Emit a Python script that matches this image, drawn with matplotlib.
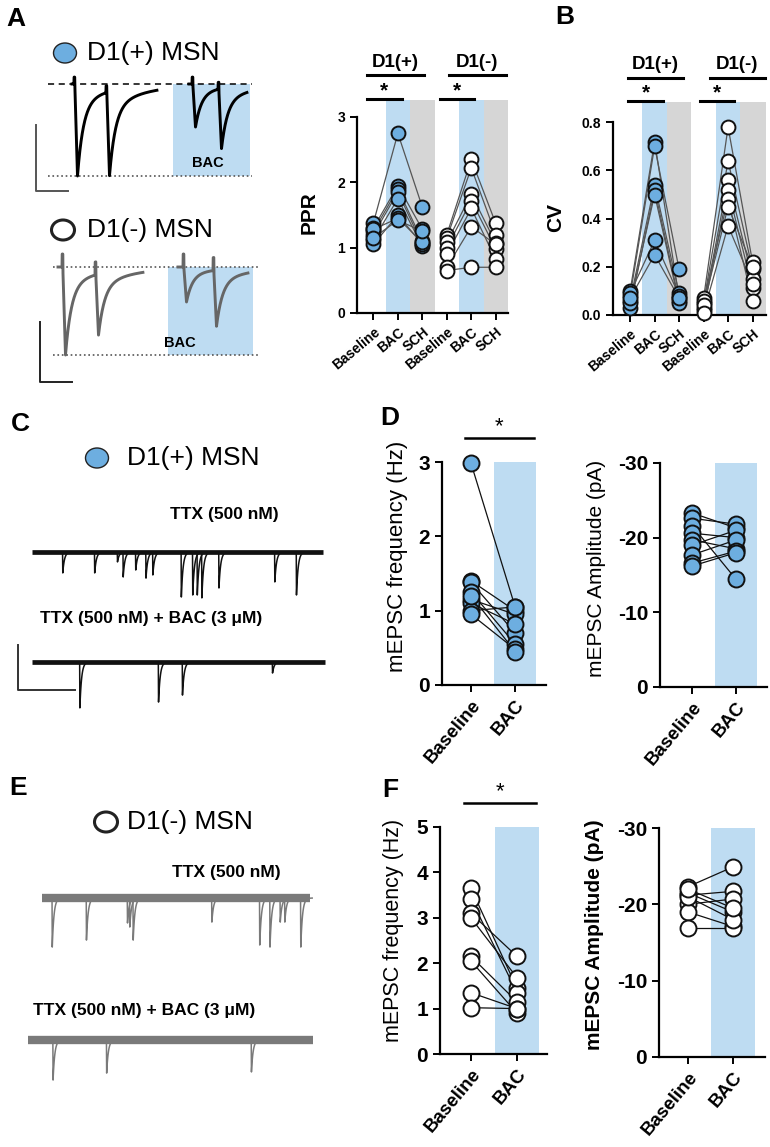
import numpy as np
import matplotlib
matplotlib.use("Agg")
import matplotlib.pyplot as plt
from matplotlib.patches import Ellipse, Rectangle

plt.rcParams['font.family'] = ['Liberation Sans', 'DejaVu Sans']
plt.rcParams['axes.unicode_minus'] = False

W, H = 770, 1147
BLUE = '#6daee0'
BAND = '#bedcf2'
GRAY_BAND = '#d6d6d6'

# ---------------- data ----------------
groups = ['Baseline', 'BAC', 'SCH']

# panel A: paired-pulse ratio
ppr_pos_base = [1.38, 1.30, 1.25, 1.20, 1.12, 1.05, 1.28, 1.15]
ppr_pos_bac = [2.75, 1.95, 1.90, 1.85, 1.75, 1.50, 1.45, 1.42]
ppr_pos_sch = [1.62, 1.28, 1.10, 1.05, 1.02, 1.05, 1.08, 1.25]
ppr_neg_base = [1.20, 1.15, 1.08, 1.00, 0.90, 0.70, 0.65]
ppr_neg_bac = [2.35, 2.22, 1.82, 1.72, 1.60, 1.32, 0.70]
ppr_neg_sch = [1.37, 1.20, 1.07, 0.98, 0.82, 1.05, 0.70]

# panel B: coefficient of variation
cv_pos_base = [0.10, 0.08, 0.06, 0.03, 0.05, 0.09, 0.07]
cv_pos_bac = [0.72, 0.70, 0.54, 0.52, 0.50, 0.31, 0.25]
cv_pos_sch = [0.07, 0.19, 0.09, 0.06, 0.05, 0.08, 0.07]
cv_neg_base = [0.07, 0.05, 0.03, 0.02, 0.06, 0.04, 0.01]
cv_neg_bac = [0.78, 0.64, 0.56, 0.52, 0.48, 0.45, 0.37]
cv_neg_sch = [0.22, 0.19, 0.15, 0.11, 0.06, 0.20, 0.13]

# panel D: D1(+) mEPSC
d_freq_base = [2.98, 1.40, 1.38, 1.25, 1.15, 1.10, 1.00, 0.95, 1.20]
d_freq_bac = [1.05, 1.00, 0.70, 0.55, 0.95, 0.82, 1.05, 0.48, 0.45]
d_amp_base = [-23.3, -22.6, -21.6, -20.6, -19.7, -19.0, -17.7, -16.6, -16.2]
d_amp_bac = [-21.3, -21.8, -14.4, -20.0, -18.5, -21.0, -19.7, -18.2, -18.0]

# panel F: D1(-) mEPSC
f_freq_base = [3.65, 3.42, 3.10, 3.00, 2.15, 2.05, 1.35, 1.02]
f_freq_bac = [1.45, 1.35, 2.15, 1.68, 1.15, 0.90, 1.00, 1.00]
f_amp_base = [-22.3, -21.2, -21.5, -20.0, -19.0, -16.9, -21.0, -22.0]
f_amp_bac = [-24.9, -21.7, -19.0, -20.7, -17.1, -16.9, -18.0, -19.5]

# panel A example EPSC traces (stim time ms, peak pA)
a_pos_ctrl_stim, a_pos_ctrl_amp = [26, 58], [-400, -365]
a_pos_bac_stim, a_pos_bac_amp = [144, 170], [-187, -261]
a_neg_ctrl_stim, a_neg_ctrl_amp = [9, 42], [-400, -277]
a_neg_bac_stim, a_neg_bac_amp = [130, 160], [-159, -255]

# panels C / E: mEPSC event times (s) and amplitudes (pA)
c_ttx_t = [0.27, 0.55, 0.75, 0.80, 0.91, 1.00, 1.06, 1.31, 1.41, 1.45, 1.49, 1.64, 2.13, 2.32]
c_ttx_a = [9.3, 9.3, 4.4, 11.1, 8.0, 11.6, 10.2, 20.0, 19.1, 19.1, 20.4, 16.0, 13.3, 19.1]
c_bac_t = [0.42, 1.11, 1.32, 2.11]
c_bac_a = [20.4, 17.8, 14.7, 4.9]
e_ttx_t = [0.09, 0.39, 0.75, 0.77, 0.80, 1.49, 1.91, 2.00, 2.09, 2.13, 2.27]
e_ttx_a = [21.8, 18.7, 11.1, 12.9, 18.7, 10.7, 20.9, 21.8, 10.7, 10.7, 21.8]
e_bac_t = [0.22, 0.69, 1.96]
e_bac_a = [17.8, 14.7, 14.2]

# ---------------- figure ----------------
fig = plt.figure(figsize=(W / 100, H / 100), dpi=100)


def px_axes(left, top, right, bottom):
    ax = fig.add_axes([left / W, 1 - bottom / H, (right - left) / W, (bottom - top) / H])
    ax.set_facecolor('none')
    return ax


overlay = px_axes(0, 0, W, H)
overlay.set_xlim(0, W)
overlay.set_ylim(H, 0)
overlay.axis('off')


def style(ax, fs, xfs, rot):
    for s in ['top', 'right']:
        ax.spines[s].set_visible(False)
    for s in ['left', 'bottom']:
        ax.spines[s].set_linewidth(1.6)
    ax.tick_params(width=1.4, length=5, labelsize=fs)
    for lab in ax.get_yticklabels():
        lab.set_fontweight('bold')
    plt.setp(ax.get_xticklabels(), rotation=rot, ha='right', rotation_mode='anchor',
             fontweight='bold', fontsize=xfs)


def paired(ax, xs, cols, face, ms, lc):
    arr = np.array(cols)
    for i in range(arr.shape[1]):
        ax.plot(xs, arr[:, i], color=lc, lw=0.9, zorder=2)
    for xi, col in zip(xs, arr):
        ax.plot([xi] * len(col), col, 'o', ms=ms, mfc=face, mec='#111', mew=1.4,
                zorder=3, clip_on=False)


def bar_above(ax, x0, x1, yf, lw=2.2):
    ax.plot([x0, x1], [yf, yf], color='k', lw=lw, clip_on=False,
            transform=ax.get_xaxis_transform())


# ----- panel A plot (PPR) -----
ax = px_axes(357, 100, 508, 313)
ax.axvspan(0.5, 1.5, color=BAND, lw=0, zorder=0)
ax.axvspan(1.5, 2.5, color=GRAY_BAND, lw=0, zorder=0)
ax.axvspan(3.5, 4.5, color=BAND, lw=0, zorder=0)
ax.axvspan(4.5, 5.5, color=GRAY_BAND, lw=0, zorder=0)
paired(ax, [0, 1, 2], [ppr_pos_base, ppr_pos_bac, ppr_pos_sch], BLUE, 10, '#555')
paired(ax, [3, 4, 5], [ppr_neg_base, ppr_neg_bac, ppr_neg_sch], 'white', 10, '#555')
ax.set_xlim(-0.67, 5.5)
ax.set_ylim(0, 3.26)
ax.set_yticks([0, 1, 2, 3])
ax.spines['left'].set_bounds(0, 3)
ax.set_xticks(range(6))
ax.set_xticklabels(groups * 2)
style(ax, 10, 10, 40)
bar_above(ax, -0.25, 2.07, 1.117)
bar_above(ax, 3.07, 5.4, 1.117)
bar_above(ax, -0.25, 1.15, 1.005)
bar_above(ax, 2.74, 4.13, 1.005)
tr = ax.get_xaxis_transform()
ax.text(0.91, 1.175, 'D1(+)', transform=tr, ha='center', va='center', fontsize=13.5, fontweight='bold')
ax.text(4.23, 1.175, 'D1(-)', transform=tr, ha='center', va='center', fontsize=13.5, fontweight='bold')
ax.text(0.45, 1.0, '*', transform=tr, ha='center', va='bottom', fontsize=15, fontweight='bold')
ax.text(3.42, 1.0, '*', transform=tr, ha='center', va='bottom', fontsize=15, fontweight='bold')
overlay.text(309, 213, 'PPR', rotation=90, ha='center', va='center', fontsize=15, fontweight='bold')

# ----- panel B plot (CV) -----
ax = px_axes(613, 102, 766, 315)
ax.axvspan(0.5, 1.5, color=BAND, lw=0, zorder=0)
ax.axvspan(1.5, 2.5, color=GRAY_BAND, lw=0, zorder=0)
ax.axvspan(3.5, 4.5, color=BAND, lw=0, zorder=0)
ax.axvspan(4.5, 5.55, color=GRAY_BAND, lw=0, zorder=0)
paired(ax, [0, 1, 2], [cv_pos_base, cv_pos_bac, cv_pos_sch], BLUE, 10, '#555')
paired(ax, [3, 4, 5], [cv_neg_base, cv_neg_bac, cv_neg_sch], 'white', 10, '#555')
ax.set_xlim(-0.7, 5.55)
ax.set_ylim(0, 0.884)
ax.set_yticks([0, 0.2, 0.4, 0.6, 0.8])
ax.set_yticklabels(['0.0', '0.2', '0.4', '0.6', '0.8'])
ax.spines['left'].set_bounds(0, 0.8)
ax.set_xticks(range(6))
ax.set_xticklabels(groups * 2)
style(ax, 10, 10, 40)
bar_above(ax, -0.08, 2.16, 1.113)
bar_above(ax, 3.27, 5.5, 1.113)
bar_above(ax, -0.08, 1.35, 1.005)
bar_above(ax, 2.86, 4.24, 1.005)
tr = ax.get_xaxis_transform()
ax.text(1.04, 1.175, 'D1(+)', transform=tr, ha='center', va='center', fontsize=13.5, fontweight='bold')
ax.text(4.38, 1.175, 'D1(-)', transform=tr, ha='center', va='center', fontsize=13.5, fontweight='bold')
ax.text(0.63, 1.0, '*', transform=tr, ha='center', va='bottom', fontsize=15, fontweight='bold')
ax.text(3.55, 1.0, '*', transform=tr, ha='center', va='bottom', fontsize=15, fontweight='bold')
overlay.text(556, 217, 'CV', rotation=90, ha='center', va='center', fontsize=15, fontweight='bold')


# ----- panels D / F -----
def mepsc_panel(rect, base, bac, face, ylim, yticks, xlim, sig=None):
    ax = px_axes(*rect)
    ax.axvspan(0.52, 1.48, color=BAND, lw=0, zorder=0)
    paired(ax, [0, 1], [base, bac], face, 11.5, '#111')
    ax.set_xlim(*xlim)
    ax.set_ylim(*ylim)
    ax.set_yticks(yticks)
    ax.set_xticks([0, 1])
    ax.set_xticklabels(['Baseline', 'BAC'])
    style(ax, 15, 13.5, 50)
    if sig:
        bar_above(ax, sig[0], sig[1], sig[2], lw=1.8)
        ax.text((sig[0] + sig[1]) / 2, sig[2] + 0.005, '*', transform=ax.get_xaxis_transform(),
                ha='center', va='bottom', fontsize=16)
    return ax


mepsc_panel((442, 462, 546, 685), d_freq_base, d_freq_bac, BLUE, (0, 3), [0, 1, 2, 3],
            (-0.66, 1.70), sig=(-0.14, 1.43, 1.108))
mepsc_panel((660, 463, 767, 687), d_amp_base, d_amp_bac, BLUE, (0, -30), [0, -10, -20, -30],
            (-0.73, 1.70))
mepsc_panel((440, 827, 547, 1054), f_freq_base, f_freq_bac, 'white', (0, 5), [0, 1, 2, 3, 4, 5],
            (-0.67, 1.65), sig=(-0.15, 1.41, 1.106))
mepsc_panel((659, 828, 765, 1057), f_amp_base, f_amp_bac, 'white', (0, -30), [0, -10, -20, -30],
            (-0.64, 1.71))
overlay.text(398, 556, 'mEPSC frequency (Hz)', rotation=90, ha='center', va='center', fontsize=16)
overlay.text(597, 568, 'mEPSC Amplitude (pA)', rotation=90, ha='center', va='center', fontsize=15)
overlay.text(393, 930, 'mEPSC frequency (Hz)', rotation=90, ha='center', va='center', fontsize=15.5)
overlay.text(595, 935, 'mEPSC Amplitude (pA)', rotation=90, ha='center', va='center', fontsize=15,
             fontweight='bold')


# ----- panel A traces -----
def epsc(t, stims, amps, art):
    y = np.zeros_like(t)
    for s, a in zip(stims, amps):
        on = s + 0.8
        pk = s + 3.5
        rise = (t >= on) & (t < pk)
        y[rise] += a * (t[rise] - on) / (pk - on)
        dt = t - pk
        dec = dt >= 0
        y[dec] += a * (0.8 * np.exp(-dt[dec] / 6) + 0.2 * np.exp(-dt[dec] / 35))
        art_m = (t >= s) & (t < on)
        y[art_m] += art
    return y


def trace_axes(rect, x0px, ypx0, yscale):
    # axes whose data coordinates are ms / pA
    ax = px_axes(*rect)
    l, t, r, b = rect
    ax.set_xlim(l - x0px, r - x0px)
    ax.set_ylim((ypx0 - b) / yscale, (ypx0 - t) / yscale)
    ax.axis('off')
    return ax


# D1(+) example
ax = trace_axes((25, 62, 262, 205), 48, 84, 0.23)
ax.add_patch(Rectangle((125, -400), 77, 400, color=BAND, lw=0, zorder=0))
ax.plot([0, 204], [0, 0], '--', color='k', lw=1.1, dashes=(4, 3))
ax.plot([0, 204], [-400, -400], ':', color='#555', lw=1.2)
t = np.arange(24, 109, 0.1)
ax.plot(t, epsc(t, a_pos_ctrl_stim, a_pos_ctrl_amp, 30), color='k', lw=2.1)
t = np.arange(141, 199, 0.1)
ax.plot(t, epsc(t, a_pos_bac_stim, a_pos_bac_amp, 30), color='k', lw=2.1)
ax.text(160, -345, 'BAC', ha='center', va='center', fontsize=10.5, fontweight='bold')
ax.plot([-12, -12, 20], [-178, -465, -465], color='#555', lw=1.4, clip_on=False)

# D1(-) example
ax = trace_axes((25, 240, 265, 390), 53, 267, 0.22)
ax.add_patch(Rectangle((115, -400), 85, 400, color=BAND, lw=0, zorder=0))
ax.plot([0, 207], [0, 0], ':', color='#555', lw=1.2)
ax.plot([0, 207], [-400, -400], ':', color='#555', lw=1.2)
t = np.arange(5, 90, 0.1)
ax.plot(t, epsc(t, a_neg_ctrl_stim, a_neg_ctrl_amp, 59), color='#666', lw=2.1)
t = np.arange(125, 195, 0.1)
ax.plot(t, epsc(t, a_neg_bac_stim, a_neg_bac_amp, 59), color='#666', lw=2.1)
ax.text(127, -345, 'BAC', ha='center', va='center', fontsize=10.5, fontweight='bold')
ax.plot([-13, -13, 19], [-250, -523, -523], color='#222', lw=1.4, clip_on=False)


# ----- panels C / E mEPSC traces -----
def mini_trace(x0px, ypx0, times, amps, length, color, band_lw, scalebar=False):
    # 114 px per second, 2.25 px per pA
    rect = (5, ypx0 - 20, 335, ypx0 + 60)
    ax = px_axes(*rect)
    ax.set_xlim((rect[0] - x0px) / 114, (rect[2] - x0px) / 114)
    ax.set_ylim((ypx0 - rect[3]) / 2.25, (ypx0 - rect[1]) / 2.25)
    ax.axis('off')
    ax.plot([0, length], [0, 0], color=color, lw=band_lw, solid_capstyle='butt')
    for t0, a in zip(times, amps):
        tt = np.linspace(0, 0.1, 50)
        ax.plot(np.r_[t0 - 0.002, t0 + tt], np.r_[0, -a * np.exp(-tt / 0.015)], color=color, lw=1.1)
    if scalebar:
        ax.plot([-0.123, -0.123, 0.377], [7.6, -12.4, -12.4], color='#333', lw=1.4, clip_on=False)
    return ax


mini_trace(32, 552, c_ttx_t, c_ttx_a, 2.55, '#111', 3.4)
mini_trace(32, 662, c_bac_t, c_bac_a, 2.57, '#111', 3.4, scalebar=True)
mini_trace(42, 898, e_ttx_t, e_ttx_a, 2.35, '#7a7a7a', 6.0)
mini_trace(28, 1040, e_bac_t, e_bac_a, 2.5, '#7a7a7a', 6.0)

# ----- labels, legend circles, annotations -----
for letter, x, y in [('A', 16, 19), ('B', 565, 17), ('C', 20, 424), ('D', 390, 418),
                     ('E', 18, 788), ('F', 390, 790)]:
    overlay.text(x, y, letter, ha='center', va='center', fontsize=19, fontweight='bold')

for cx, cy, face, lw, tx, label in [(65, 53, BLUE, 1.0, 87, 'D1(+) MSN'),
                                    (63, 230, 'white', 2.2, 87, 'D1(-) MSN'),
                                    (97, 458, BLUE, 1.0, 127, 'D1(+) MSN'),
                                    (106, 822, 'white', 2.2, 127, 'D1(-) MSN')]:
    overlay.add_patch(Ellipse((cx, cy), 23, 20, facecolor=face, edgecolor='#222', lw=lw))
    overlay.text(tx, cy, label, ha='left', va='center', fontsize=19)

overlay.text(170, 515, 'TTX (500 nM)', ha='left', va='center', fontsize=12.5, fontweight='bold')
overlay.text(40, 619, 'TTX (500 nM) + BAC (3 μM)', ha='left', va='center', fontsize=12.5,
             fontweight='bold')
overlay.text(172, 873, 'TTX (500 nM)', ha='left', va='center', fontsize=12.5, fontweight='bold')
overlay.text(33, 1010, 'TTX (500 nM) + BAC (3 μM)', ha='left', va='center', fontsize=12.5,
             fontweight='bold')

fig.savefig('out.png', dpi=100)
